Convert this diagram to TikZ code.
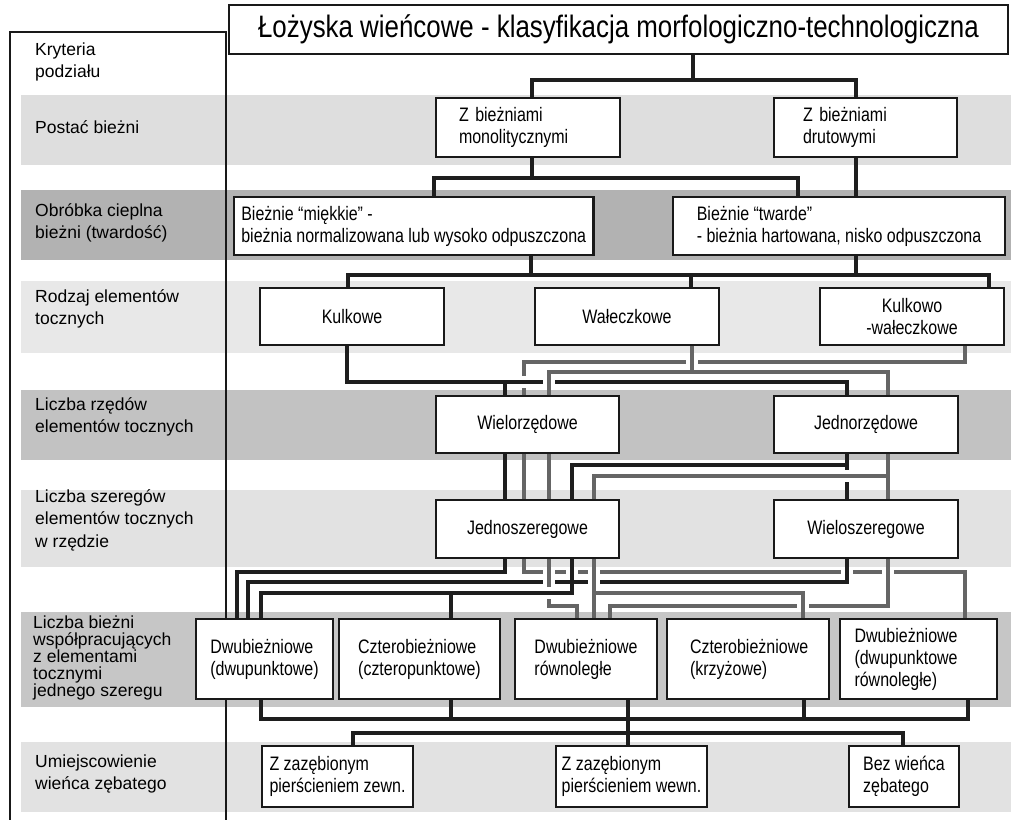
\documentclass[tikz,border=0pt]{standalone}
\usepackage{fontspec}
\setmainfont{Liberation Sans}
\newfontfamily\boxfam[FakeStretch=0.82]{Liberation Sans}
\newfontfamily\titlefam[FakeStretch=0.835]{Liberation Sans}
\usetikzlibrary{shadows}
\pgfdeclarelayer{bands}
\pgfdeclarelayer{lines}
\pgfsetlayers{bands,lines,main}
\hyphenpenalty=10000
\exhyphenpenalty=10000
\definecolor{bandA}{HTML}{DEDEDE}
\definecolor{bandB}{HTML}{B2B2B2}
\definecolor{bandC}{HTML}{E8E8E8}
\definecolor{bandD}{HTML}{C2C2C2}
\definecolor{bandE}{HTML}{E2E2E2}
\definecolor{bandF}{HTML}{C6C6C6}
\definecolor{bandG}{HTML}{E2E2E2}
\definecolor{lnblk}{HTML}{1E1E1E}
\definecolor{lngry}{HTML}{656565}
\newcommand\gapV[3]{\fill[white] (#1-6,#2-2.3) rectangle (#1+6,#2+2.3); \draw[#3] (#1,#2-5) -- (#1,#2+5);}
\newcommand\gapH[3]{\fill[white] (#1-2.3,#2-6) rectangle (#1+2.3,#2+6); \draw[#3] (#1-9,#2) -- (#1+9,#2);}
\tikzset{
  box/.style={draw=black!90, line width=2.1pt, fill=white, inner sep=0pt,
    font=\boxfam\fontsize{19.5}{22}\selectfont,
    drop shadow={shadow xshift=1.3pt, shadow yshift=-1.3pt, fill=black!70, opacity=1}},
  crit/.style={anchor=west, align=left, inner sep=0pt, font=\fontsize{17.5}{22.5}\selectfont},
  blk/.style={draw=lnblk, line width=3.2pt},
  gry/.style={draw=lngry, line width=3.2pt},
}
\begin{document}
\begin{tikzpicture}[x=1pt, y=-1pt]
\useasboundingbox (0,0) rectangle (1011,819);
\begin{pgfonlayer}{bands}
  \fill[white] (0,0) rectangle (1011,819);
  \fill[bandA] (21,95) rectangle (1011,165);
  \fill[bandB] (21,190) rectangle (1011,260);
  \fill[bandC] (21,281) rectangle (1011,353);
  \fill[bandD] (21,390) rectangle (1011,460);
  \fill[bandE] (21,490) rectangle (1011,567);
  \fill[bandF] (21,612) rectangle (1011,707);
  \fill[bandG] (21,742) rectangle (1011,812);
\end{pgfonlayer}

% criteria column
\draw[black!90, line width=2.1pt] (10,840) -- (10,32) -- (226,32) -- (226,840);
\node[crit] (k0) at (35,62) {Kryteria\\podziału};
\node[crit] (k1) at (35,127) {Postać bieżni};
\node[crit] (k2) at (35,223) {Obróbka cieplna\\bieżni (twardość)};
\node[crit] (k3) at (35,309) {Rodzaj elementów\\tocznych};
\node[crit] (k4) at (35,417) {Liczba rzędów\\elementów tocznych};
\node[crit] (k5) at (35,520) {Liczba szeregów\\elementów tocznych\\w rzędzie};
\node[crit, font=\fontsize{17.5}{17}\selectfont] (k6) at (33,658) {Liczba bieżni\\współpracujących\\z elementami\\tocznymi\\jednego szeregu};
\node[crit] (k7) at (35,774) {Umiejscowienie\\wieńca zębatego};

% boxes
\node[box, font=\titlefam\fontsize{31}{36}\selectfont, minimum width=779pt, minimum height=49pt] (title) at (618.5,29.5) {Łożyska wieńcowe - klasyfikacja morfologiczno-technologiczna};

\node[box, minimum width=184pt, minimum height=59pt, text width=138pt, align=left] (monolit) at (528,127.5) {Z bieżniami\\monolitycznymi};
\node[box, minimum width=183pt, minimum height=59pt, text width=125pt, align=left] (drutowe) at (865.5,127.5) {Z bieżniami\\drutowymi};

\node[box, minimum width=359.5pt, minimum height=58pt, align=left] (miekkie) at (413.75,226) {Bieżnie “miękkie” -\\bieżnia normalizowana lub wysoko odpuszczona};
\node[box, minimum width=332pt, minimum height=58pt, align=left] (twarde) at (839,226) {Bieżnie “twarde”\\- bieżnia hartowana, nisko odpuszczona};

\node[box, minimum width=184pt, minimum height=57pt, align=center] (kulkowe) at (352,316.5) {Kulkowe};
\node[box, minimum width=184pt, minimum height=57pt, align=center] (walecz) at (627,316.5) {Wałeczkowe};
\node[box, minimum width=184pt, minimum height=57pt, align=center] (kulkowo) at (912,316.5) {Kulkowo\\-wałeczkowe};

\node[box, minimum width=183pt, minimum height=57pt, align=center] (wielo) at (527.5,424.5) {Wielorzędowe};
\node[box, minimum width=184pt, minimum height=57pt, align=center] (jedno) at (866,424.5) {Jednorzędowe};

\node[box, minimum width=183pt, minimum height=58pt, align=center] (jednosz) at (527.5,529) {Jednoszeregowe};
\node[box, minimum width=184pt, minimum height=58pt, align=center] (wielosz) at (866,529) {Wieloszeregowe};

\node[box, minimum width=137pt, minimum height=80pt, align=left] (b1) at (264.5,659) {Dwubieżniowe\\(dwupunktowe)};
\node[box, minimum width=161pt, minimum height=80pt, align=left] (b2) at (419.5,659) {Czterobieżniowe\\(czteropunktowe)};
\node[box, minimum width=142pt, minimum height=80pt, align=left] (b3) at (586,659) {Dwubieżniowe\\równoległe};
\node[box, minimum width=162pt, minimum height=80pt, text width=116pt, align=left] (b4) at (748,659) {Czterobieżniowe\\(krzyżowe)};
\node[box, minimum width=157pt, minimum height=80pt, text width=128pt, align=left] (b5) at (918.5,659) {Dwubieżniowe\\(dwupunktowe\\równoległe)};

\node[box, minimum width=151pt, minimum height=61pt, align=left] (z1) at (337.5,776.5) {Z zazębionym\\pierścieniem zewn.};
\node[box, minimum width=151pt, minimum height=61pt, align=left] (z2) at (631.5,776.5) {Z zazębionym\\pierścieniem wewn.};
\node[box, minimum width=110pt, minimum height=61pt, align=left] (z3) at (904,776.5) {Bez wieńca\\zębatego};

\begin{pgfonlayer}{lines}
% title -> row 1
\coordinate (j0) at (693,80);
\coordinate (a1) at (532,80);
\coordinate (a2) at (856,80);
\draw[blk] (title.south -| j0) -- (j0);
\draw[blk] (a1 |- monolit.north) -- (a1) -- (a2) -- (a2 |- drutowe.north);
% row 1 -> row 2
\coordinate (b0) at (532,178);
\coordinate (bl) at (434,178);
\coordinate (br) at (798,178);
\coordinate (bd) at (856,178);
\draw[blk] (b0 |- monolit.south) -- (b0);
\draw[blk] (bl |- miekkie.north) -- (bl) -- (br) -- (br |- twarde.north);
\draw[blk] (bd |- drutowe.south) -- (bd |- twarde.north);
% row 2 -> row 3
\coordinate (c1) at (531,275);
\coordinate (c2) at (856,275);
\coordinate (c3) at (348,275);
\coordinate (c4) at (691,275);
\coordinate (c5) at (989,275);
\draw[blk] (c1 |- miekkie.south) -- (c1);
\draw[blk] (c2 |- twarde.south) -- (c2);
\draw[blk] (c3 |- kulkowe.north) -- (c3) -- (c5) -- (c5 |- kulkowo.north);
\draw[blk] (c4) -- (c4 |- walecz.north);
% row 3 -> row 4
\coordinate (d1) at (965,362);
\coordinate (d2) at (524,362);
\draw[gry] (d1 |- kulkowo.south) -- (d1) -- (d2) -- (d2 |- wielo.north);
\coordinate (e1) at (347,382);
\coordinate (e2) at (847,382);
\coordinate (e3) at (505,382);
\draw[blk] (e1 |- kulkowe.south) -- (e1) -- (e2) -- (e2 |- jedno.north);
\draw[blk] (e3) -- (e3 |- wielo.north);
\coordinate (f0) at (692,372);
\coordinate (f1) at (549,372);
\coordinate (f2) at (888,372);
\draw[gry] (f0 |- walecz.south) -- (f0);
\draw[gry] (f1 |- wielo.north) -- (f1) -- (f2) -- (f2 |- jedno.north);
% row 4 -> row 5
\draw[blk] (e3 |- wielo.south) -- (e3 |- jednosz.north);
\draw[gry] (d2 |- wielo.south) -- (d2 |- jednosz.north);
\draw[gry] (f1 |- wielo.south) -- (f1 |- jednosz.north);
\coordinate (g1) at (847,465);
\coordinate (g2) at (572,465);
\draw[blk] (g1 |- jedno.south) -- (g1 |- wielosz.north);
\draw[blk] (g1) -- (g2) -- (g2 |- jednosz.north);
\coordinate (h1) at (888,476);
\coordinate (h2) at (594,476);
\draw[gry] (h1 |- jedno.south) -- (h1 |- wielosz.north);
\draw[gry] (h1) -- (h2) -- (h2 |- jednosz.north);
% row 5 -> row 6
\coordinate (k1) at (524,572);
\coordinate (k2) at (965,572);
\draw[gry] (k1 |- jednosz.south) -- (k1) -- (k2) -- (k2 |- b5.north);
\coordinate (m1) at (505,572);
\coordinate (m2) at (237,572);
\draw[blk] (m1 |- jednosz.south) -- (m1) -- (m2) -- (m2 |- b1.north);
\coordinate (n1) at (847,582);
\coordinate (n2) at (248,582);
\draw[blk] (n1 |- wielosz.south) -- (n1) -- (n2) -- (n2 |- b1.north);
\coordinate (p1) at (572,593);
\coordinate (p2) at (261,593);
\coordinate (p3) at (451,593);
\draw[blk] (p1 |- jednosz.south) -- (p1) -- (p2) -- (p2 |- b1.north);
\draw[blk] (p3) -- (p3 |- b2.north);
\coordinate (q1) at (549,606);
\coordinate (q2) at (577,606);
\draw[gry] (q1 |- jednosz.south) -- (q1) -- (q2) -- (q2 |- b3.north);
\coordinate (r1) at (594,593);
\coordinate (r2) at (803,593);
\draw[gry] (r1 |- jednosz.south) -- (r1 |- b3.north);
\draw[gry] (r1) -- (r2) -- (r2 |- b4.north);
\coordinate (s1) at (888,606);
\coordinate (s2) at (610,606);
\draw[gry] (s1 |- wielosz.south) -- (s1) -- (s2) -- (s2 |- b3.north);
% row 6 -> row 7
\coordinate (u1) at (261,719);
\coordinate (u2) at (451,719);
\coordinate (u3) at (628,719);
\coordinate (u4) at (804,719);
\coordinate (u5) at (968,719);
\draw[blk] (u1 |- b1.south) -- (u1) -- (u5) -- (u5 |- b5.south);
\draw[blk] (u2 |- b2.south) -- (u2);
\draw[blk] (u4 |- b4.south) -- (u4);
\draw[blk] (u3 |- b3.south) -- (u3 |- z2.north);
\coordinate (v1) at (353,733);
\coordinate (v2) at (903,733);
\draw[blk] (v1 |- z1.north) -- (v1) -- (v2) -- (v2 |- z3.north);
% line crossings (bridges)
\gapV{692}{362}{gry}
\gapH{524}{382}{blk}
\gapV{549}{382}{gry}
\gapH{847}{476}{gry}
\gapV{549}{572}{gry}
\gapV{572}{572}{blk}
\gapV{594}{572}{gry}
\gapV{847}{572}{blk}
\gapV{888}{572}{gry}
\gapV{549}{582}{gry}
\gapV{594}{582}{gry}
\gapH{549}{593}{blk}
\gapV{803}{606}{gry}
\end{pgfonlayer}
\end{tikzpicture}
\end{document}
